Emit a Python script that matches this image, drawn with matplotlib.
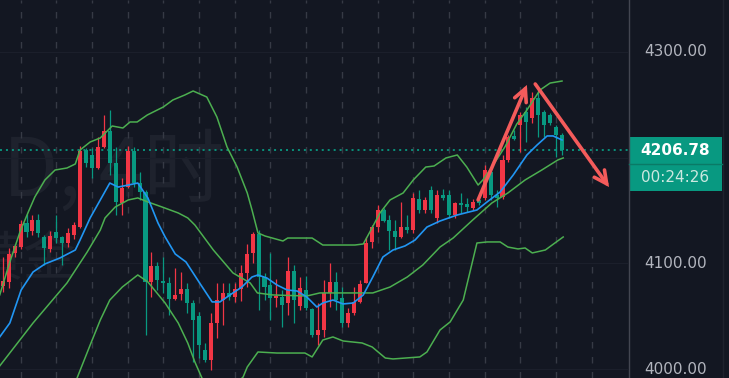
import matplotlib
matplotlib.use('Agg')
from matplotlib import pyplot as plt
from matplotlib.patches import Rectangle

# colores estilo TradingView oscuro
fondo = '#131722'
rojo = '#f23645'
verde = '#089981'
verde_bb = '#4caf50'
azul = '#2196f3'
flecha = '#f45b5b'

# velas (indice 0..94), rojo = sube, verde = baja
opens = [4078.6, 4082.4, 4109.8, 4115.4, 4138.1, 4130.6, 4141.0, 4124.9, 4113.6, 4129.6,
         4124.9, 4119.2, 4126.8, 4134.3, 4207.1, 4202.4, 4190.1, 4210.0, 4225.1, 4194.8,
         4157.0, 4172.1, 4206.2, 4175.9, 4167.4, 4082.4, 4097.5, 4083.3, 4081.4, 4066.3,
         4071.0, 4075.7, 4062.5, 4050.2, 4018.1, 4008.6, 4043.6, 4065.3, 4072.0, 4068.2,
         4075.7, 4090.9, 4109.8, 4127.7, 4087.1, 4079.5, 4067.2, 4068.2, 4062.5, 4092.8,
         4059.7, 4074.8, 4056.8, 4032.3, 4037.0, 4072.0, 4082.4, 4067.2, 4043.6, 4053.1,
         4063.5, 4081.4, 4120.2, 4134.3, 4150.4, 4141.0, 4130.6, 4124.9, 4134.3, 4131.5,
         4160.8, 4150.4, 4169.3, 4142.9, 4164.6, 4164.6, 4145.7, 4157.0, 4156.1, 4152.3,
         4159.9, 4161.8, 4186.3, 4164.6, 4162.7, 4197.7, 4220.4, 4230.8, 4243.0, 4237.4,
         4256.3, 4243.0, 4240.2, 4228.9, 4221.3]
highs = [4106.0, 4114.5, 4118.3, 4141.0, 4146.6, 4145.7, 4146.6, 4126.8, 4130.6, 4145.7,
         4125.8, 4133.4, 4139.1, 4210.9, 4209.0, 4209.0, 4219.4, 4240.2, 4244.9, 4210.0,
         4180.6, 4210.9, 4210.0, 4186.3, 4169.3, 4110.7, 4101.3, 4106.0, 4087.1, 4095.6,
         4091.8, 4081.4, 4065.3, 4054.0, 4024.7, 4053.1, 4081.4, 4081.4, 4081.4, 4081.4,
         4098.4, 4118.3, 4129.6, 4131.5, 4090.9, 4109.8, 4085.2, 4074.8, 4106.0, 4098.4,
         4087.1, 4088.0, 4057.8, 4062.5, 4084.2, 4100.3, 4091.8, 4077.6, 4057.8, 4077.6,
         4084.2, 4124.9, 4136.2, 4155.1, 4152.3, 4145.7, 4141.0, 4158.0, 4145.7, 4166.5,
         4169.3, 4162.7, 4173.1, 4169.3, 4170.3, 4169.3, 4158.0, 4166.5, 4161.8, 4160.8,
         4160.8, 4192.9, 4188.2, 4169.3, 4202.4, 4221.3, 4226.0, 4243.0, 4247.8, 4261.9,
         4263.8, 4244.9, 4242.1, 4230.8, 4223.2]
lows = [4072.9, 4076.7, 4106.0, 4113.6, 4124.9, 4126.8, 4124.9, 4098.4, 4110.7, 4119.2,
        4098.4, 4115.4, 4123.0, 4133.4, 4191.0, 4180.6, 4189.2, 4209.0, 4183.5, 4145.7,
        4145.7, 4171.2, 4172.1, 4159.9, 4032.3, 4068.2, 4074.8, 4072.0, 4051.2, 4065.3,
        4065.3, 4053.1, 4006.7, 4010.5, 4006.7, 3999.2, 4029.4, 4041.7, 4065.3, 4063.5,
        4064.4, 4077.6, 4100.3, 4055.9, 4065.3, 4046.4, 4058.7, 4039.8, 4051.2, 4043.6,
        4055.9, 4055.9, 4030.4, 4022.8, 4030.4, 4058.7, 4055.9, 4039.8, 4039.8, 4051.2,
        4062.5, 4081.4, 4114.5, 4129.6, 4139.1, 4112.6, 4112.6, 4123.9, 4128.7, 4128.7,
        4147.6, 4147.6, 4147.6, 4138.1, 4159.9, 4142.9, 4142.9, 4147.6, 4148.5, 4150.4,
        4155.1, 4159.9, 4159.9, 4153.2, 4160.8, 4195.8, 4216.6, 4205.2, 4214.7, 4232.6,
        4219.4, 4219.4, 4230.8, 4200.5, 4202.4]
closes = [4083.3, 4108.8, 4116.4, 4137.2, 4129.6, 4141.0, 4128.7, 4114.5, 4125.8, 4123.9,
          4119.2, 4128.7, 4136.2, 4206.2, 4194.8, 4190.1, 4210.0, 4225.1, 4194.8, 4158.0,
          4171.2, 4206.2, 4175.9, 4167.4, 4082.4, 4097.5, 4084.2, 4081.4, 4066.3, 4070.1,
          4075.7, 4062.5, 4046.4, 4022.8, 4008.6, 4043.6, 4065.3, 4072.0, 4068.2, 4075.7,
          4090.9, 4108.8, 4127.7, 4087.1, 4077.6, 4067.2, 4069.1, 4060.6, 4092.8, 4065.3,
          4076.7, 4057.8, 4032.3, 4037.0, 4072.0, 4082.4, 4065.3, 4043.6, 4053.1, 4063.5,
          4080.5, 4119.2, 4134.3, 4150.4, 4140.0, 4130.6, 4124.9, 4134.3, 4131.5, 4161.8,
          4150.4, 4159.9, 4150.4, 4164.6, 4161.8, 4145.7, 4157.0, 4155.1, 4153.2, 4158.0,
          4157.0, 4188.2, 4164.6, 4161.8, 4197.7, 4219.4, 4217.5, 4240.2, 4233.6, 4256.3,
          4240.2, 4230.8, 4232.6, 4221.3, 4206.78]

# bandas de bollinger (superior, media, inferior) y media movil azul
bb_sup_x = [-0.5, 1.2, 2.9, 4.3, 5.4, 7.1, 8.8, 10.8, 12.2, 13.0, 14.7, 16.4, 18.4, 20.2,
            21.4, 22.6, 24.3, 27.0, 28.6, 30.6, 32.0, 34.3, 36.0, 37.7, 39.4, 41.1, 41.9,
            42.9, 44.1, 47.1, 47.9, 52.0, 53.8, 59.2, 60.6, 61.7, 63.4, 65.1, 67.3, 69.0,
            71.1, 72.5, 74.5, 76.4, 78.0, 79.9, 80.7, 82.2, 84.4, 86.4, 88.1, 90.3, 92.0, 94.0]
bb_sup = [4070.1, 4101.3, 4129.6, 4148.5, 4162.7, 4178.8, 4188.2, 4190.1, 4193.9, 4207.1,
          4214.7, 4218.5, 4229.8, 4227.9, 4233.6, 4233.6, 4240.2, 4247.8, 4254.4, 4259.1,
          4262.9, 4257.2, 4238.3, 4210.0, 4191.0, 4166.5, 4150.4, 4128.7, 4125.8, 4121.1,
          4123.9, 4123.9, 4117.3, 4117.3, 4118.3, 4129.6, 4147.6, 4159.9, 4166.5, 4178.8,
          4191.0, 4192.0, 4199.6, 4202.4, 4191.0, 4174.0, 4178.8, 4191.0, 4210.0, 4231.7,
          4244.9, 4263.8, 4270.4, 4272.3]
bb_med_x = [-0.5, 5.1, 10.8, 14.2, 16.4, 17.2, 18.9, 21.1, 22.7, 24.4, 26.8, 29.5, 31.1,
            32.3, 35.4, 38.7, 41.6, 42.8, 45.4, 51.1, 53.3, 56.7, 62.2, 65.1, 68.0, 70.6,
            73.5, 75.7, 79.0, 82.2, 84.9, 87.8, 90.6, 93.3, 94.2]
bb_med = [4003.0, 4043.6, 4081.4, 4110.7, 4131.5, 4142.9, 4153.2, 4159.9, 4161.8, 4158.0,
          4153.2, 4147.6, 4142.9, 4136.2, 4112.6, 4090.9, 4081.4, 4072.0, 4070.1, 4069.1,
          4072.0, 4072.0, 4072.0, 4077.6, 4087.1, 4098.4, 4115.4, 4123.9, 4141.0, 4157.0,
          4166.5, 4178.8, 4188.2, 4197.7, 4199.6]
bb_inf_x = [9.6, 12.5, 14.7, 16.4, 18.0, 20.1, 22.7, 24.4, 27.3, 29.5, 31.1, 32.3, 34.0,
            36.5, 39.0, 40.4, 41.1, 42.9, 46.1, 50.8, 52.0, 53.8, 55.5, 57.2, 60.4, 62.1,
            64.3, 65.6, 70.1, 71.3, 73.5, 75.2, 77.4, 79.7, 81.4, 83.6, 84.9, 86.6, 87.8,
            89.0, 91.2, 92.8, 94.2]
bb_inf = [3966.1, 3991.6, 4022.8, 4046.4, 4065.3, 4077.6, 4089.0, 4082.4, 4062.5, 4043.6,
          4024.7, 4006.7, 3985.0, 3975.5, 3985.0, 3992.5, 4002.0, 4016.2, 4015.2, 4015.2,
          4011.5, 4027.5, 4030.4, 4026.6, 4024.7, 4020.9, 4010.5, 4009.6, 4011.5, 4016.2,
          4037.0, 4044.6, 4065.3, 4119.2, 4120.2, 4120.2, 4115.4, 4113.6, 4114.5, 4109.8,
          4112.6, 4119.2, 4124.9]
ma_x = [-0.5, 1.2, 3.1, 5.1, 7.1, 9.6, 12.2, 13.0, 14.7, 16.4, 18.0, 19.4, 21.1, 22.7,
        24.4, 26.1, 27.3, 29.0, 30.8, 33.2, 35.2, 36.5, 38.7, 40.2, 41.9, 42.9, 44.4, 46.1,
        47.8, 49.5, 51.1, 52.8, 53.8, 55.5, 57.2, 58.9, 60.6, 62.2, 63.9, 65.6, 67.6, 69.3,
        71.3, 73.5, 76.4, 79.7, 81.4, 83.6, 85.8, 88.1, 89.8, 91.5, 92.5, 94.0]
ma = [4030.4, 4043.6, 4074.8, 4091.8, 4099.4, 4105.0, 4112.6, 4122.0, 4142.9, 4159.9,
      4175.9, 4172.1, 4174.0, 4175.9, 4161.8, 4138.1, 4124.9, 4108.8, 4101.3, 4080.5,
      4063.5, 4063.5, 4072.0, 4077.6, 4087.1, 4089.0, 4086.1, 4079.5, 4074.8, 4073.8,
      4068.2, 4058.7, 4062.5, 4065.3, 4061.6, 4062.5, 4070.1, 4087.1, 4106.0, 4112.6,
      4116.4, 4122.0, 4134.3, 4140.0, 4145.7, 4150.4, 4158.0, 4167.4, 4183.5, 4202.4,
      4211.8, 4220.4, 4220.4, 4216.6]

precio_actual = 4206.78
temporizador = '00:24:26'
etiquetas_precio = [4300, 4100, 4000]
lineas_precio = [4000, 4100, 4200, 4300]

# flechas dibujadas a mano (indice, precio)
flecha1 = [(79.9, 4159.9), (88.1, 4268.6)]
flecha2 = [(89.5, 4269.5), (101.9, 4172.1)]

W, H = 729, 378
fig = plt.figure(figsize=(W / 100, H / 100), dpi=100, facecolor=fondo)

ax = fig.add_axes([0, 0, 628 / W, 1])
ax.set_facecolor(fondo)
ax.set_xlim(-0.454, 105.09)
ax.set_ylim(3991.6, 4348.9)
for s in ax.spines.values():
    s.set_visible(False)
ax.set_xticks([])
ax.set_yticks([])

# rejilla
for g in range(3, 105, 6):
    ax.axvline(g, color='#363a45', lw=1, dashes=(4.7, 6.1), zorder=1)
for p in lineas_precio:
    ax.axhline(p, color='#1b1f2b', lw=0.8, zorder=1)

# marca de agua
wm = ['Noto Sans CJK SC', 'DejaVu Sans']
ax.text(3 / 628, 1 - 196 / 378, 'D, 4时', transform=ax.transAxes, fontsize=58,
        color='#1e222d', family=wm, va='baseline', ha='left', zorder=0.5)
ax.text(-30 / 628, 1 - 274 / 378, '黄金', transform=ax.transAxes, fontsize=38,
        color='#1e222d', family=wm, va='baseline', ha='left', zorder=0.5)

# velas
idx = list(range(len(opens)))
cols = [rojo if c >= o else verde for o, c in zip(opens, closes)]
ax.vlines(idx, lows, highs, colors=cols, lw=0.9, zorder=3)
alturas = [max(abs(c - o), 0.9) for o, c in zip(opens, closes)]
bases = [min(o, c) for o, c in zip(opens, closes)]
ax.bar(idx, alturas, bottom=bases, width=0.68, color=cols, linewidth=0, zorder=3)

# indicadores
ax.plot(bb_sup_x, bb_sup, color=verde_bb, lw=1.1, zorder=4)
ax.plot(bb_med_x, bb_med, color=verde_bb, lw=1.1, zorder=4)
ax.plot(bb_inf_x, bb_inf, color=verde_bb, lw=1.1, zorder=4)
ax.plot(ma_x, ma, color=azul, lw=1.2, zorder=4)

# linea del precio actual
ax.axhline(precio_actual, color=verde, lw=1.3, linestyle=(0, (1.1, 2.2)), zorder=2)

# flechas
for a, b in [flecha1, flecha2]:
    ax.annotate('', xy=b, xytext=a,
                arrowprops=dict(arrowstyle='->,head_length=0.9,head_width=0.45',
                                color=flecha, lw=2.6, shrinkA=0, shrinkB=0,
                                capstyle='round', joinstyle='miter'),
                zorder=5)

# escala de precios a la derecha
ax2 = fig.add_axes([628 / W, 0, 1 - 628 / W, 1])
ax2.set_facecolor(fondo)
ax2.set_xlim(628, 729)
ax2.set_ylim(3991.6, 4348.9)
for s in ax2.spines.values():
    s.set_visible(False)
ax2.set_xticks([])
ax2.set_yticks([])
ax2.axvline(628.5, color='#434651', lw=1)
ax2.axvline(722.5, color='#1e222d', lw=1)

for p in etiquetas_precio:
    ax2.text(675.5, p, f'{p:.2f}', ha='center', va='center', color='#b2b5be',
             fontsize=11)

ax2.add_patch(Rectangle((629, 4168.4), 93, 4219.4 - 4168.4, color=verde, lw=0))
ax2.axhline(4193.9, xmin=(629 - 628) / 101, xmax=(722 - 628) / 101, color='#0a7a66', lw=1)
ax2.text(675.5, precio_actual, f'{precio_actual:.2f}', ha='center', va='center',
         color='white', fontsize=11, fontweight='bold')
ax2.text(675.5, 4181.1, temporizador, ha='center', va='center', color='#cce8e0',
         fontsize=11)

fig.savefig('out.png', dpi=100, facecolor=fondo)
